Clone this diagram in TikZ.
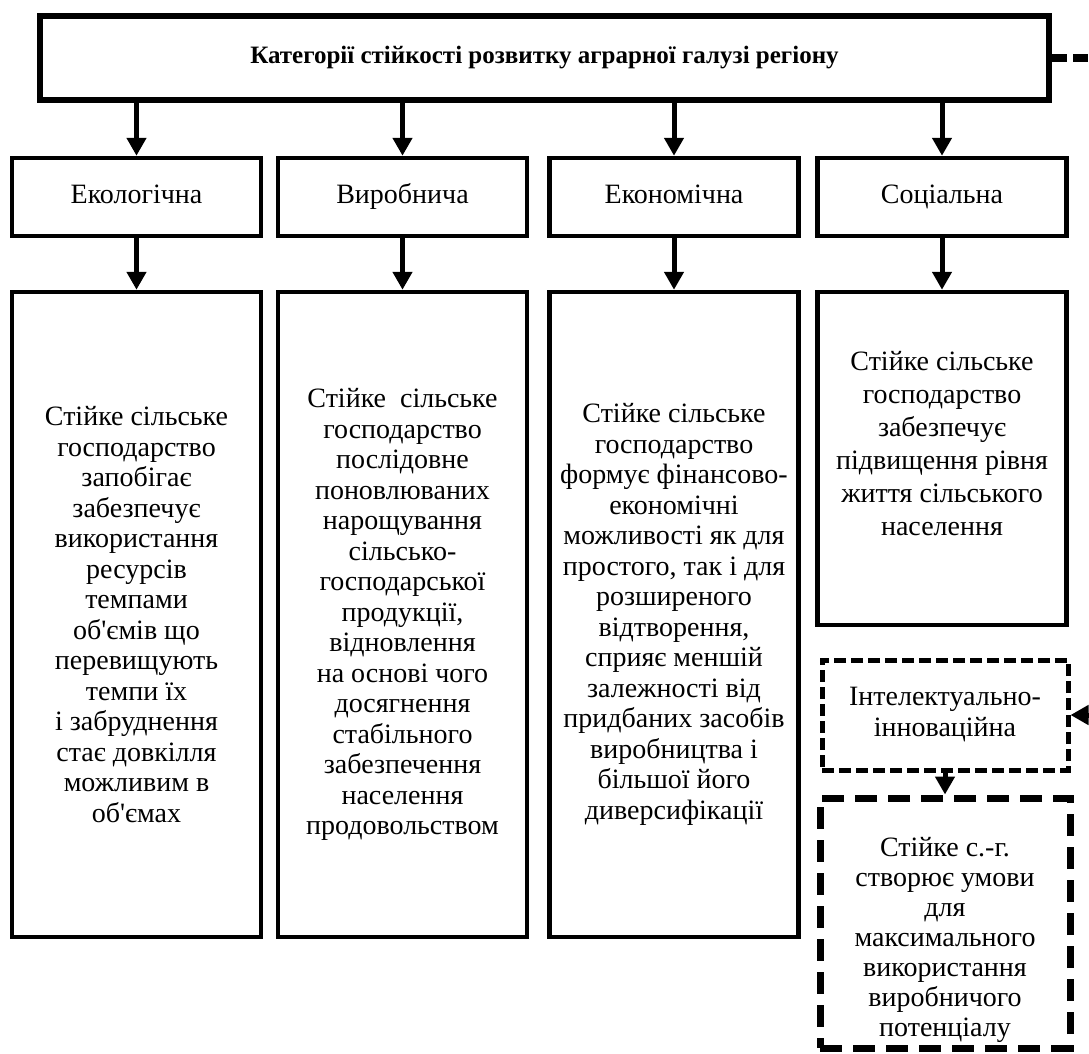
\documentclass[tikz,border=0pt]{standalone}
\usepackage{fontspec}
\setmainfont{Liberation Serif}
\usetikzlibrary{arrows.meta, positioning}

\begin{document}
\begin{tikzpicture}[x=1pt, y=-1pt,
		catbox/.style={draw, line width=4.5pt, minimum width=249pt, minimum height=78pt,
			inner sep=0pt, text height=19pt, text depth=6pt,
			font=\fontsize{28}{31}\selectfont},
		descbox/.style={draw, line width=4.5pt, minimum width=249pt, align=center,
			inner sep=0pt, font=\fontsize{28}{30.5}\selectfont},
		dashbox/.style={draw, line width=5pt, dash pattern=on 12pt off 5pt,
			minimum width=246pt, align=center, inner sep=0pt,
			font=\fontsize{28}{31}\selectfont},
		link/.style={line width=5pt, -{Triangle[length=18pt, width=19pt]}},
		>=Stealth
	]
	% page frame, the right-hand return line runs past it
	\useasboundingbox (0,0) rectangle (1089,1053);
	\clip (0,0) rectangle (1089,1053);

	% head of the scheme
	\node[draw, line width=6pt, minimum width=1009pt, minimum height=84pt,
		font=\bfseries\fontsize{25}{28}\selectfont] (title) at (544.5,58)
		{Категорії стійкості розвитку аграрної галузі регіону};

	% four categories
	\node[catbox] (eco) at (136.5,197) {Екологічна};
	\node[catbox] (prod) at (402.5,197) {Виробнича};
	\node[catbox] (econ) at (674,197) {Економічна};
	\node[catbox] (soc) at (942,197) {Соціальна};

	\foreach \cat in {eco, prod, econ, soc}
		\draw[link] (title.south -| \cat) -- (\cat.north);

	% what each category means
	\node[descbox, minimum height=645pt] (ecotext) at (136.5,614.5)
		{Стійке сільське\\ господарство\\ запобігає\\ забезпечує\\ використання\\
		ресурсів\\ темпами\\ об\textquotesingle ємів що\\ перевищують\\ темпи їх\\
		і забруднення\\ стає довкілля\\ можливим в\\ об\textquotesingle ємах};
	\node[descbox, minimum height=645pt] (prodtext) at (402.5,614.5)
		{Стійке\ \ сільське\\ господарство\\ послідовне\\ поновлюваних\\ нарощування\\
		сільсько-\\ господарської\\ продукції,\\ відновлення\\ на основі чого\\
		досягнення\\ стабільного\\ забезпечення\\ населення\\ продовольством};
	\node[descbox, minimum height=645pt] (econtext) at (674,614.5)
		{Стійке сільське\\ господарство\\ формує фінансово-\\ економічні\\
		можливості як для\\ простого, так і для\\ розширеного\\ відтворення,\\
		сприяє меншій\\ залежності від\\ придбаних засобів\\ виробництва і\\
		більшої його\\ диверсифікації};
	% text sits a little above the middle here
	\node[descbox, minimum height=333pt, font=\fontsize{28}{33}\selectfont]
		(soctext) at (942,458.5)
		{Стійке сільське\\ господарство\\ забезпечує\\ підвищення рівня\\
		життя сільського\\ населення\\[-3pt]};

	\draw[link] (eco) -- (ecotext);
	\draw[link] (prod) -- (prodtext);
	\draw[link] (econ) -- (econtext);
	\draw[link] (soc) -- (soctext);

	% dashed branch on the right
	\node[dashbox, minimum height=110pt] (intel) at (945,715)
		{Інтелектуально-\\ інноваційна};
	% and here a little below it
	\node[dashbox, line width=7pt, dash pattern=on 22pt off 11pt,
		minimum width=250pt, minimum height=250pt, font=\fontsize{28}{30}\selectfont]
		(intelres) at (945,923)
		{\\[24pt]Стійке с.-г.\\ створює умови\\ для\\ максимального\\ використання\\
		виробничого\\ потенціалу};
	\draw[link] (intel) -- (intelres);

	\draw[line width=8pt, dash pattern=on 15pt off 6pt] (title.east) -- ++(90,0)
		coordinate (bend);
	\draw[link] (bend |- intel.east) -- (intel.east);
\end{tikzpicture}
\end{document}
